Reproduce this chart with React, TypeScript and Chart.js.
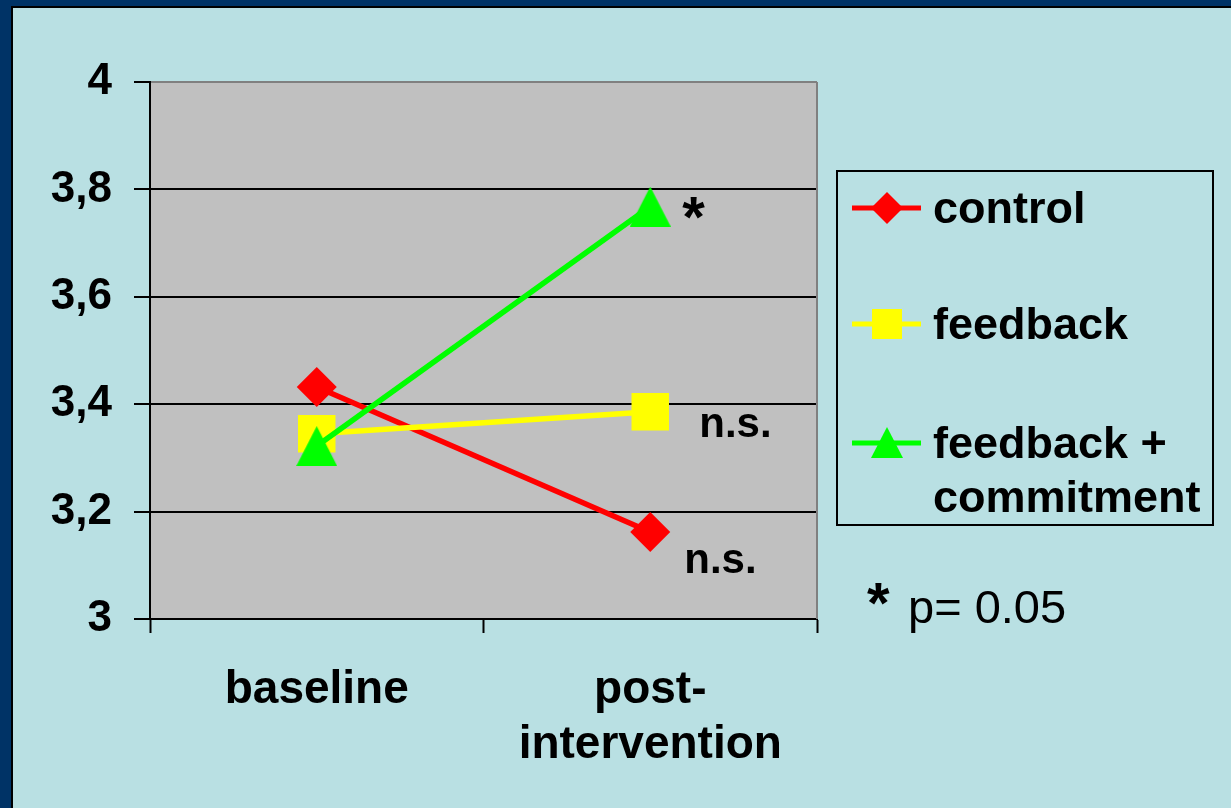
import React, { useEffect, useRef } from 'react';
import { Chart, registerables } from 'chart.js';

Chart.register(...registerables);

// ---------- data ----------
const categories: string[][] = [['baseline'], ['post-', 'intervention']];
const seriesNames = ['control', 'feedback', 'feedback + commitment'];
const legendLines = [['control'], ['feedback'], ['feedback +', 'commitment']];
const controlValues = [3.432, 3.162];
const feedbackValues = [3.345, 3.386];
const commitmentValues = [3.322, 3.768];
const yTickValues = [3, 3.2, 3.4, 3.6, 3.8, 4];
// significance labels at post-intervention, per series (control, feedback, feedback + commitment)
const significanceLabels = ['n.s.', 'n.s.', '*'];
const footnoteStar = '*';
const footnoteText = 'p= 0.05';

// ---------- styles ----------
const FONT = "'Liberation Sans', Arial, Helvetica, sans-serif";
const COLORS = ['#FF0000', '#FFFF00', '#00FF00'];
const BG = '#B9E0E3';
const FRAME = '#003366';
const PLOT_BG = '#C0C0C0';
const W = 1231;
const H = 808;
// offsets of significance labels from the post-intervention point
const sigOffsets = [
  { dx: 34, dy: 41, size: 42 },
  { dx: 49, dy: 25, size: 42 },
  { dx: 32, dy: 30, size: 58 },
];

function makeTriangle(color: string, w: number, h: number) {
  const c = document.createElement('canvas');
  c.width = w;
  c.height = h;
  const g = c.getContext('2d')!;
  g.fillStyle = color;
  g.beginPath();
  g.moveTo(w / 2, 0);
  g.lineTo(w, h);
  g.lineTo(0, h);
  g.closePath();
  g.fill();
  return c;
}

function fmt(v: number) {
  if (Math.abs(v - Math.round(v)) < 1e-9) return String(Math.round(v));
  return v.toFixed(1).replace('.', ',');
}

const framePlugin = {
  id: 'frame',
  beforeDraw(chart: any) {
    const { ctx, width, height, chartArea: a } = chart;
    ctx.save();
    ctx.fillStyle = BG;
    ctx.fillRect(0, 0, width, height);
    ctx.fillStyle = FRAME;
    ctx.fillRect(0, 0, width, 6);
    ctx.fillRect(0, 0, 11, height);
    ctx.fillStyle = '#000';
    ctx.fillRect(11, 6, 2, height - 6);
    ctx.fillRect(11, 6, width - 11, 2);
    ctx.fillStyle = PLOT_BG;
    ctx.fillRect(a.left, a.top, a.right - a.left, a.bottom - a.top);
    ctx.restore();
  },
  beforeDatasetsDraw(chart: any) {
    const { ctx, chartArea: a } = chart;
    ctx.save();
    ctx.strokeStyle = '#808080';
    ctx.lineWidth = 2;
    ctx.beginPath();
    ctx.moveTo(a.right, a.top);
    ctx.lineTo(a.right, a.bottom);
    ctx.stroke();
    ctx.restore();
  },
  afterDraw(chart: any) {
    const { ctx } = chart;
    ctx.save();
    // significance labels
    ctx.fillStyle = '#000';
    ctx.textAlign = 'left';
    ctx.textBaseline = 'alphabetic';
    significanceLabels.forEach((txt, i) => {
      const meta = chart.getDatasetMeta(i);
      const p = meta.data[meta.data.length - 1];
      const o = sigOffsets[i];
      ctx.font = `bold ${o.size}px ${FONT}`;
      ctx.fillText(txt, p.x + o.dx, p.y + o.dy);
    });

    // legend box
    const bx = 837, by = 171, bw = 376, bh = 354;
    ctx.strokeStyle = '#000';
    ctx.lineWidth = 2;
    ctx.strokeRect(bx, by, bw, bh);
    const centers = [208, 324, 443];
    ctx.font = `bold 45px ${FONT}`;
    chart.data.datasets.forEach((ds: any, i: number) => {
      const cy = centers[i];
      const col = COLORS[i];
      ctx.strokeStyle = col;
      ctx.lineWidth = 5;
      ctx.beginPath();
      ctx.moveTo(852, cy);
      ctx.lineTo(921, cy);
      ctx.stroke();
      ctx.fillStyle = col;
      const mx = 887;
      ctx.beginPath();
      if (i === 0) {
        const r = 16;
        ctx.moveTo(mx - r, cy);
        ctx.lineTo(mx, cy - r);
        ctx.lineTo(mx + r, cy);
        ctx.lineTo(mx, cy + r);
      } else if (i === 1) {
        ctx.rect(mx - 15, cy - 15, 30, 30);
      } else {
        ctx.moveTo(mx, cy - 16);
        ctx.lineTo(mx + 16, cy + 15);
        ctx.lineTo(mx - 16, cy + 15);
      }
      ctx.closePath();
      ctx.fill();
      ctx.fillStyle = '#000';
      legendLines[i].forEach((line, j) => {
        ctx.fillText(line, 933, cy + 15 + j * 54);
      });
    });

    // footnote
    ctx.font = `bold 58px ${FONT}`;
    ctx.fillText(footnoteStar, 867, 623);
    ctx.font = `47px ${FONT}`;
    ctx.fillText(footnoteText, 908, 623);
    ctx.restore();
  },
};

export default function App() {
  const ref = useRef<HTMLCanvasElement | null>(null);
  useEffect(() => {
    if (!ref.current) return;
    const tri = makeTriangle(COLORS[2], 41, 40);
    const values = [controlValues, feedbackValues, commitmentValues];
    const styles: any[] = [
      { pointStyle: 'rectRot', pointRadius: 20 },
      { pointStyle: 'rect', pointRadius: 26.5 },
      { pointStyle: tri, pointRadius: 20 },
    ];
    const chart = new Chart(ref.current, {
      type: 'line',
      data: {
        labels: categories as any,
        datasets: values.map((v, i) => ({
          label: seriesNames[i],
          data: v,
          borderColor: COLORS[i],
          backgroundColor: COLORS[i],
          pointBackgroundColor: COLORS[i],
          pointBorderWidth: 0,
          borderWidth: 5.5,
          tension: 0,
          order: 2 - i,
          ...styles[i],
        })),
      },
      options: {
        responsive: false,
        animation: false,
        devicePixelRatio: 1,
        layout: { padding: { top: 82, right: 414, left: 0, bottom: 0 } },
        plugins: { legend: { display: false }, tooltip: { enabled: false } },
        events: [],
        scales: {
          x: {
            type: 'category',
            offset: true,
            grid: {
              offset: true,
              drawOnChartArea: false,
              drawTicks: true,
              tickLength: 14,
              tickColor: '#000',
              tickWidth: 2,
            },
            border: { display: true, color: '#000', width: 2 },
            ticks: {
              color: '#000',
              padding: 30,
              maxRotation: 0,
              autoSkip: false,
              font: { family: FONT, size: 46, weight: 'bold', lineHeight: 1.2 },
            },
            afterFit: (s: any) => {
              s.height = H - 619;
            },
          },
          y: {
            min: 3,
            max: 4,
            grid: {
              color: (c: any) => (c.tick && Math.abs(c.tick.value - 4) < 1e-9 ? '#808080' : '#000'),
              lineWidth: 2,
              tickLength: 16,
              tickColor: '#000',
              tickWidth: 2,
            },
            border: { display: true, color: '#000', width: 2 },
            ticks: {
              color: '#000',
              padding: 22,
              callback: (v: any) => fmt(Number(v)),
              font: { family: FONT, size: 44, weight: 'bold' },
            },
            afterBuildTicks: (s: any) => {
              s.ticks = yTickValues.map((v) => ({ value: v }));
            },
            afterFit: (s: any) => {
              s.width = 150;
            },
          },
        },
      } as any,
      plugins: [framePlugin],
    });
    return () => chart.destroy();
  }, []);
  return (
    <div style={{ position: 'absolute', left: 0, top: 0, width: W, height: H }}>
      <canvas ref={ref} width={W} height={H} style={{ display: 'block' }} />
    </div>
  );
}
